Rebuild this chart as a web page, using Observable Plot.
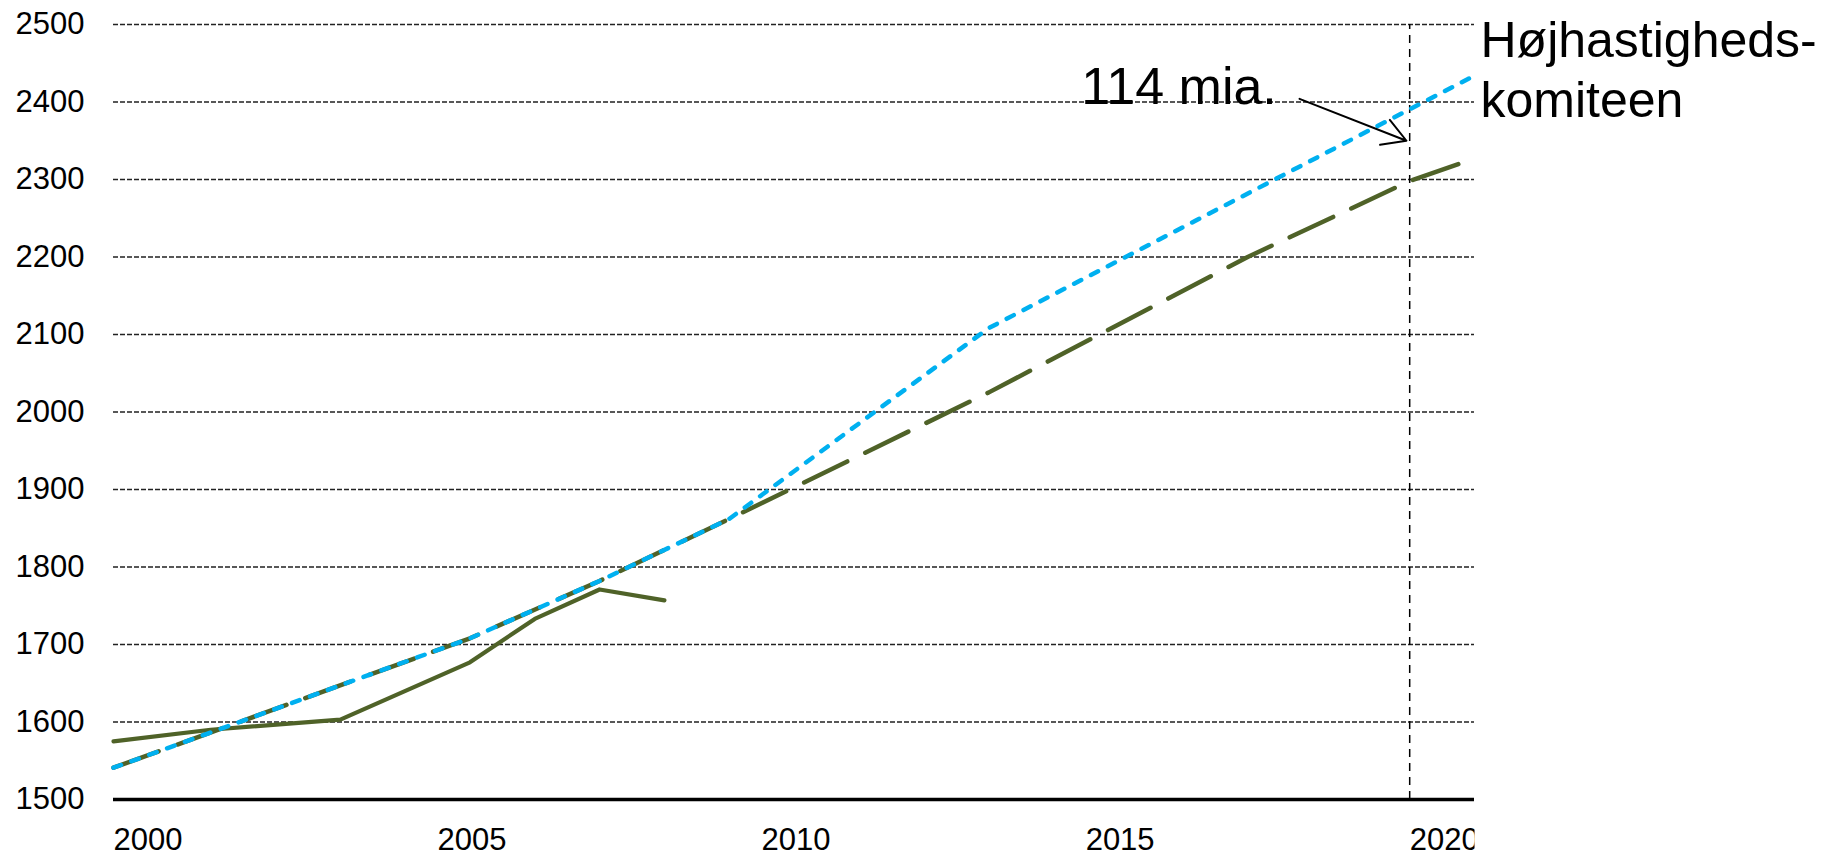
<!DOCTYPE html>
<html>
<head>
<meta charset="utf-8">
<script src="https://cdn.jsdelivr.net/npm/d3@7"></script>
<script src="https://cdn.jsdelivr.net/npm/@observablehq/plot@0.6"></script>
<style>
  html, body { margin: 0; padding: 0; background: #fff; }
  #chart svg { display: block; }
</style>
</head>
<body>
<div id="chart"></div>
<script>
// Actual development (solid olive line)
const actualYears  = [2000, 2001.5, 2003.5, 2005.5, 2006.5, 2007.5, 2008.5];
const actualValues = [1575, 1590, 1603, 1677, 1733, 1771, 1757];

// Baseline projection (long-dashed olive line)
const baseYears  = [2000, 2005.5, 2007.5, 2009.5, 2013.5, 2017.5, 2020, 2021];
const baseValues = [1541, 1708, 1782, 1862, 2025, 2200, 2298, 2327];

// Højhastighedskomiteen scenario (short-dashed blue line)
const hsYears  = [2000, 2005.5, 2007.5, 2009.5, 2013.5, 2021];
const hsValues = [1541, 1708, 1782, 1862, 2108, 2434];

const yTicks = [1500, 1600, 1700, 1800, 1900, 2000, 2100, 2200, 2300, 2400, 2500];
const gridTicks = [1600, 1700, 1800, 1900, 2000, 2100, 2200, 2300, 2400, 2500];
const xTicks = [2000, 2005, 2010, 2015, 2020];
const markerYear = 2020;

const gapLabel = "114 mia.";
const seriesLabelLines = ["Højhastigheds-", "komiteen"];

const actual = actualYears.map((x, i) => ({x, y: actualValues[i]}));
const base = baseYears.map((x, i) => ({x, y: baseValues[i]}));
const hs = hsYears.map((x, i) => ({x, y: hsValues[i]}));

const OLIVE = "#4F6228";
const BLUE = "#00B0F0";

const chart = Plot.plot({
  width: 1844,
  height: 860,
  marginLeft: 113,
  marginRight: 370,
  marginTop: 24,
  marginBottom: 61,
  style: {fontFamily: "'Liberation Sans', Arial, sans-serif", background: "#fff", color: "#000"},
  x: {domain: [2000, 2021]},
  y: {domain: [1500, 2500]},
  marks: [
    Plot.gridY(gridTicks, {stroke: "#222", strokeOpacity: 1, strokeWidth: 1.5, strokeDasharray: "5,2"}),
    Plot.ruleX([markerYear], {y1: 1500, y2: 2500, stroke: "#000", strokeWidth: 1.5, strokeDasharray: "8,6"}),
    Plot.axisY(yTicks, {tickSize: 0, tickPadding: 29, fontSize: 31, label: null, tickFormat: d => String(d)}),
    Plot.axisX(xTicks, {tickSize: 0, tickPadding: 28, fontSize: 31, textAnchor: "start", label: null, tickFormat: d => String(d)}),
    Plot.line(base, {x: "x", y: "y", stroke: OLIVE, strokeWidth: 4.5, strokeDasharray: "48,20", strokeLinecap: "round"}),
    Plot.line(actual, {x: "x", y: "y", stroke: OLIVE, strokeWidth: 4.2}),
    Plot.line(hs, {x: "x", y: "y", stroke: BLUE, strokeWidth: 4.5, strokeDasharray: "8,11", strokeLinecap: "round"}),
    Plot.ruleY([1500], {stroke: "#000", strokeWidth: 3.5}),
    Plot.arrow([{x1: 2018.3, y1: 2404, x2: 2019.95, y2: 2350}], {x1: "x1", y1: "y1", x2: "x2", y2: "y2", stroke: "#000", strokeWidth: 2, headLength: 20}),
    Plot.text([gapLabel], {x: 2017.95, y: 2397, text: d => d, textAnchor: "end", lineAnchor: "bottom", fontSize: 52, fill: "#000"}),
    Plot.text([seriesLabelLines[0]], {x: 2021, y: 2458, dx: 6, text: d => d, textAnchor: "start", lineAnchor: "bottom", fontSize: 50, fill: "#000"}),
    Plot.text([seriesLabelLines[1]], {x: 2021, y: 2381, dx: 6, text: d => d, textAnchor: "start", lineAnchor: "bottom", fontSize: 50, fill: "#000"})
  ]
});

// clip the x tick labels at the right edge of the plotting area (as in the original)
const xEnd = chart.scale("x").apply(2021);
const svg = d3.select(chart);
svg.append("defs").append("clipPath").attr("id", "xlabclip")
  .append("rect").attr("x", -100).attr("y", 0).attr("width", xEnd + 100).attr("height", 2000);
svg.selectAll('g[aria-label="x-axis tick label"]').attr("clip-path", "url(#xlabclip)");

document.getElementById("chart").appendChild(chart);
</script>
</body>
</html>
